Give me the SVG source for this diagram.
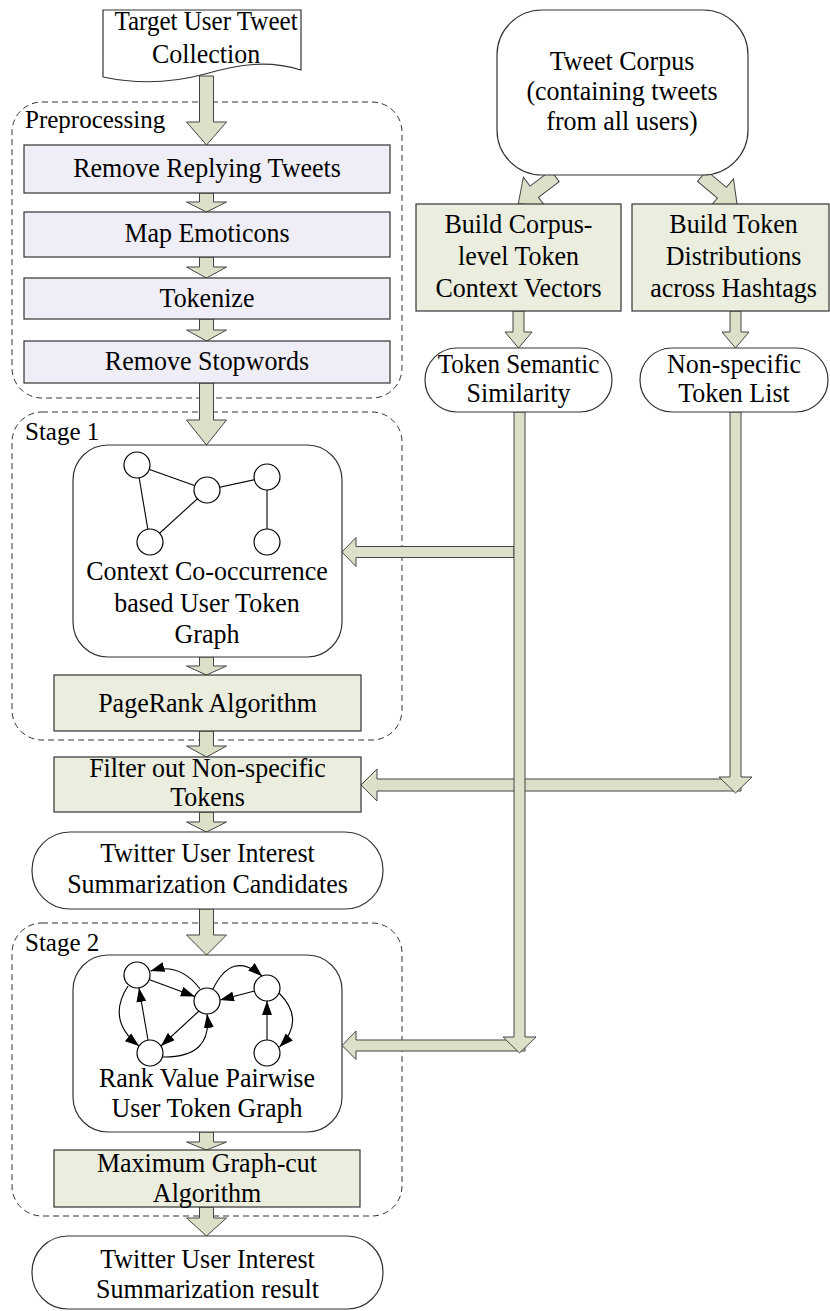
<svg xmlns="http://www.w3.org/2000/svg" width="830" height="1311" viewBox="0 0 830 1311">
  <style>
    text { font-family: 'Liberation Serif', 'Times New Roman', serif; font-size: 27.5px; fill: #000; text-anchor: middle; }
    .lbl { font-size: 25px; text-anchor: start; }
    .box { stroke: #333; stroke-width: 1.2; }
    .proc { fill: #EFEEF6; }
    .step { fill: #EBEEDE; }
    .plain { fill: #fff; }
    .group { fill: none; stroke: #333; stroke-width: 1; stroke-dasharray: 6 4; }
    .blk { fill: #DCE0C9; stroke: #444; stroke-width: 1; stroke-linejoin: miter; }
    .node { fill: #fff; stroke: #000; stroke-width: 1.2; }
    .edge { fill: none; stroke: #000; stroke-width: 1.1; }
    .dir { fill: none; stroke: #000; stroke-width: 1.1; marker-end: url(#tri); }
  </style>
  <defs>
    <marker id="tri" viewBox="0 0 14 10" refX="14" refY="5" markerWidth="14" markerHeight="10" markerUnits="userSpaceOnUse" orient="auto">
      <path d="M0,0 L14,5 L0,10 Z" fill="#000"/>
    </marker>
    <!-- downward block arrow, 46 long, used for the diagonal connectors -->
    <polygon id="diag" points="-7,0 7,0 7,26 18,26 0,46 -18,26 -7,26"/>
  </defs>

  <!-- group frames -->
  <g id="groups">
    <rect id="grp-pre" class="group" x="12" y="102" width="390" height="296" rx="30"/>
    <rect id="grp-s1" class="group" x="12" y="412" width="390" height="328" rx="30"/>
    <rect id="grp-s2" class="group" x="12" y="923" width="390" height="293" rx="30"/>
    <text class="lbl" x="25" y="128">Preprocessing</text>
    <text class="lbl" x="25" y="440">Stage 1</text>
    <text class="lbl" x="25" y="951">Stage 2</text>
  </g>

  <!-- connectors -->
  <g id="connectors">
    <!-- horizontal feeds -->
    <polygon class="blk" points="514,546.5 514,557.5 356,557.5 356,566.5 342,552 356,537.5 356,546.5"/>
    <polygon class="blk" points="741,779 741,791 377,791 377,801 361,785 377,769 377,779"/>
    <polygon class="blk" points="525,1040 525,1051 356,1051 356,1059.5 342,1045.5 356,1031 356,1040"/>
    <!-- long verticals -->
    <polygon class="blk" points="514,412 525,412 525,1037 536,1037 519.5,1053 503,1037 514,1037"/>
    <polygon class="blk" points="730,412 741,412 741,777 752,777 735.5,793 719,777 730,777"/>
    <!-- corpus to builders -->
    <use href="#diag" class="blk" transform="translate(555,176) rotate(53)"/>
    <use href="#diag" class="blk" transform="translate(702,176) rotate(-50)"/>
    <polygon class="blk" points="513,311 524,311 524,332 532,332 518.5,348 505,332 513,332"/>
    <polygon class="blk" points="730,311 741,311 741,332 749,332 735.5,348 722,332 730,332"/>
    <!-- main left column -->
    <polygon class="blk" points="199.5,76 213.5,76 213.5,122 226.5,122 206.5,145 186.5,122 199.5,122"/>
    <polygon class="blk" points="199.5,193 213.5,193 213.5,202 226.5,202 206.5,212 186.5,202 199.5,202"/>
    <polygon class="blk" points="199.5,257 213.5,257 213.5,267 226.5,267 206.5,278 186.5,267 199.5,267"/>
    <polygon class="blk" points="199.5,319 213.5,319 213.5,330 226.5,330 206.5,341 186.5,330 199.5,330"/>
    <polygon class="blk" points="199.5,383 213.5,383 213.5,420 226.5,420 206.5,445 186.5,420 199.5,420"/>
    <polygon class="blk" points="199.5,657 213.5,657 213.5,666 226.5,666 206.5,675 186.5,666 199.5,666"/>
    <polygon class="blk" points="199.5,731 213.5,731 213.5,746 226.5,746 206.5,757 186.5,746 199.5,746"/>
    <polygon class="blk" points="199.5,812 213.5,812 213.5,822 226.5,822 206.5,832 186.5,822 199.5,822"/>
    <polygon class="blk" points="199.5,909 213.5,909 213.5,935 226.5,935 206.5,955 186.5,935 199.5,935"/>
    <polygon class="blk" points="199.5,1132 213.5,1132 213.5,1142 226.5,1142 206.5,1150 186.5,1142 199.5,1142"/>
    <polygon class="blk" points="199.5,1207 213.5,1207 213.5,1218 226.5,1218 206.5,1236 186.5,1218 199.5,1218"/>
  </g>

  <!-- nodes; labels use a slightly narrowed face -->
  <g id="n-target">
    <path class="box plain" d="M103,10 H301 V70 C268,60 240,64 205,74 C168,84 136,84 103,77 Z"/>
    <g transform="translate(206 0) scale(0.945 1)">
      <text x="0" y="30" style="font-size:26.5px">Target User Tweet</text>
      <text x="0" y="63">Collection</text>
    </g>
  </g>

  <g id="n-remove-replying">
    <rect class="box proc" x="24" y="145" width="366" height="48"/>
    <text x="0" y="177" transform="translate(207 0) scale(0.945 1)">Remove Replying Tweets</text>
  </g>
  <g id="n-map-emoticons">
    <rect class="box proc" x="24" y="212" width="366" height="45"/>
    <text x="0" y="242" transform="translate(207 0) scale(0.945 1)">Map Emoticons</text>
  </g>
  <g id="n-tokenize">
    <rect class="box proc" x="24" y="278" width="366" height="41"/>
    <text x="0" y="307" transform="translate(207 0) scale(0.945 1)">Tokenize</text>
  </g>
  <g id="n-remove-stopwords">
    <rect class="box proc" x="24" y="341" width="366" height="42"/>
    <text x="0" y="370" transform="translate(207 0) scale(0.945 1)">Remove Stopwords</text>
  </g>

  <g id="n-cooc-graph">
    <rect class="box plain" x="73" y="445" width="269" height="212" rx="35"/>
    <line class="edge" x1="137" y1="465" x2="207" y2="490"/>
    <line class="edge" x1="137" y1="465" x2="150" y2="542"/>
    <line class="edge" x1="207" y1="490" x2="150" y2="542"/>
    <line class="edge" x1="207" y1="490" x2="267" y2="477"/>
    <line class="edge" x1="267" y1="477" x2="267" y2="542"/>
    <circle class="node" cx="137" cy="465" r="13"/>
    <circle class="node" cx="207" cy="490" r="13"/>
    <circle class="node" cx="267" cy="477" r="13"/>
    <circle class="node" cx="150" cy="542" r="13"/>
    <circle class="node" cx="267" cy="542" r="13"/>
    <g transform="translate(207 0) scale(0.945 1)">
      <text x="0" y="580">Context Co-occurrence</text>
      <text x="0" y="612">based User Token</text>
      <text x="0" y="643">Graph</text>
    </g>
  </g>

  <g id="n-pagerank">
    <rect class="box step" x="54" y="675" width="307" height="56"/>
    <text x="0" y="712" transform="translate(207.5 0) scale(0.945 1)">PageRank Algorithm</text>
  </g>

  <g id="n-filter">
    <rect class="box step" x="54" y="757" width="307" height="55"/>
    <g transform="translate(207.5 0) scale(0.945 1)">
      <text x="0" y="777">Filter out Non-specific</text>
      <text x="0" y="806">Tokens</text>
    </g>
  </g>

  <g id="n-candidates">
    <rect class="box plain" x="32" y="832" width="351" height="77" rx="38"/>
    <g transform="translate(207.5 0) scale(0.945 1)">
      <text x="0" y="862">Twitter User Interest</text>
      <text x="0" y="893">Summarization Candidates</text>
    </g>
  </g>

  <g id="n-pairwise-graph">
    <rect class="box plain" x="73" y="955" width="269" height="177" rx="35"/>
    <path class="dir" d="M149,979.5 L194.8,996.5"/>
    <path class="dir" d="M200,989 Q180,962 150.5,971"/>
    <path class="dir" d="M213,989 Q232,950 262,976"/>
    <path class="dir" d="M254.5,991 L220,1000"/>
    <path class="dir" d="M128,986 Q106,1020 139,1046"/>
    <path class="dir" d="M148,1040 L139,988"/>
    <path class="dir" d="M199,1011 L161,1046"/>
    <path class="dir" d="M162,1057 Q213,1058 207,1014"/>
    <path class="dir" d="M267,1040 L267,1001"/>
    <path class="dir" d="M279,993 Q306,1020 279.5,1047"/>
    <circle class="node" cx="137" cy="975" r="13"/>
    <circle class="node" cx="207" cy="1001" r="13"/>
    <circle class="node" cx="267" cy="988" r="13"/>
    <circle class="node" cx="150" cy="1053" r="13"/>
    <circle class="node" cx="267" cy="1053" r="13"/>
    <g transform="translate(207 0) scale(0.945 1)">
      <text x="0" y="1087">Rank Value Pairwise</text>
      <text x="0" y="1117">User Token Graph</text>
    </g>
  </g>

  <g id="n-graphcut">
    <rect class="box step" x="54" y="1150" width="306" height="57"/>
    <g transform="translate(207 0) scale(0.945 1)">
      <text x="0" y="1172">Maximum Graph-cut</text>
      <text x="0" y="1202">Algorithm</text>
    </g>
  </g>

  <g id="n-result">
    <rect class="box plain" x="32" y="1236" width="351" height="73" rx="36"/>
    <g transform="translate(207.5 0) scale(0.945 1)">
      <text x="0" y="1268">Twitter User Interest</text>
      <text x="0" y="1298">Summarization result</text>
    </g>
  </g>

  <g id="n-corpus">
    <rect class="box plain" x="497" y="10" width="251" height="165" rx="45"/>
    <g transform="translate(622 0) scale(0.945 1)">
      <text x="0" y="70">Tweet Corpus</text>
      <text x="0" y="100">(containing tweets</text>
      <text x="0" y="130">from all users)</text>
    </g>
  </g>

  <g id="n-context-vectors">
    <rect class="box step" x="416" y="204" width="205" height="107"/>
    <g transform="translate(518.5 0) scale(0.945 1)">
      <text x="0" y="233">Build Corpus-</text>
      <text x="0" y="265">level Token</text>
      <text x="0" y="297">Context Vectors</text>
    </g>
  </g>

  <g id="n-hashtag-dist">
    <rect class="box step" x="632" y="204" width="197" height="107"/>
    <g transform="translate(733.5 0) scale(0.945 1)">
      <text x="0" y="233">Build Token</text>
      <text x="0" y="265">Distributions</text>
      <text x="0" y="297">across Hashtags</text>
    </g>
  </g>

  <g id="n-semantic-sim">
    <rect class="box plain" x="425" y="348" width="187" height="64" rx="32"/>
    <g transform="translate(518.5 0) scale(0.945 1)">
      <text x="0" y="373" style="font-size:26.5px">Token Semantic</text>
      <text x="0" y="402">Similarity</text>
    </g>
  </g>

  <g id="n-nonspecific">
    <rect class="box plain" x="640" y="348" width="188" height="64" rx="32"/>
    <g transform="translate(734 0) scale(0.945 1)">
      <text x="0" y="373">Non-specific</text>
      <text x="0" y="402">Token List</text>
    </g>
  </g>
</svg>
